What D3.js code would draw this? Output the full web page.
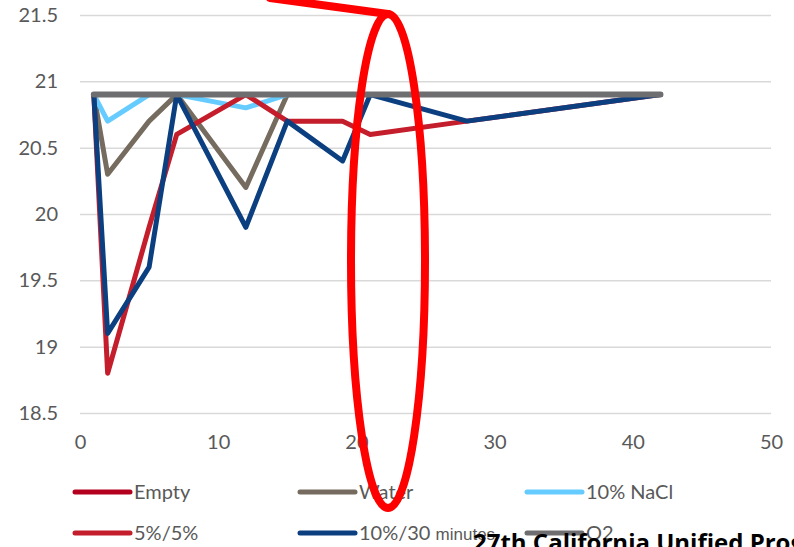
<!DOCTYPE html>
<html>
<head>
<meta charset="utf-8">
<script src="https://cdn.jsdelivr.net/npm/d3@7"></script>
<style>
  html, body { margin: 0; padding: 0; background: #fff; }
  svg { display: block; }
</style>
</head>
<body>
<svg id="chart" width="794" height="547"></svg>
<script>
// ---- data ----
const xValues      = [1, 2, 5, 7, 12, 15, 19, 21, 28, 42];
const emptyVals    = [20.9, 20.9, 20.9, 20.9, 20.9, 20.9, 20.9, 20.9, 20.9, 20.9];
const waterVals    = [20.9, 20.3, 20.7, 20.9, 20.2, 20.9, 20.9, 20.9, 20.9, 20.9];
const naclVals     = [20.9, 20.7, 20.9, 20.9, 20.8, 20.9, 20.9, 20.9, 20.9, 20.9];
const fiveVals     = [20.9, 18.8, 19.9, 20.6, 20.9, 20.7, 20.7, 20.6, 20.7, 20.9];
const tenThirtyVals= [20.9, 19.1, 19.6, 20.9, 19.9, 20.7, 20.4, 20.9, 20.7, 20.9];
const o2Vals       = [20.9, 20.9, 20.9, 20.9, 20.9, 20.9, 20.9, 20.9, 20.9, 20.9];
const seriesNames  = ["Empty", "Water", "10% NaCl", "5%/5%", "10%/30 minutes", "O2"];
const yTicks       = [18.5, 19, 19.5, 20, 20.5, 21, 21.5];
const xTicks       = [0, 10, 20, 30, 40, 50];
const footerText   = "27th California Unified Program Annual Training Conference";

const seriesData = [emptyVals, waterVals, naclVals, fiveVals, tenThirtyVals, o2Vals];
const colors = ["#B3001F", "#756B5E", "#66CCFF", "#C41D2B", "#0B3F80", "#6E6E70"];

const svg = d3.select("#chart");
const x = d3.scaleLinear().domain([0, 50]).range([80, 771]);
const y = d3.scaleLinear().domain([18.5, 21.5]).range([413, 15]);

const labelFont = "Lato, 'DejaVu Sans', sans-serif";

// gridlines + y labels
const yAxis = d3.axisLeft(y).tickValues(yTicks).tickSize(-(771 - 80)).tickPadding(22)
  .tickFormat(d => String(d));
const gy = svg.append("g").attr("transform", "translate(80,0)").call(yAxis);
gy.select(".domain").remove();
gy.selectAll(".tick line").attr("stroke", "#D9D9D9").attr("stroke-width", 1.5);
gy.selectAll(".tick text").attr("fill", "#595959").style("font-family", labelFont).style("font-size", "20px");

// x labels
const xAxis = d3.axisBottom(x).tickValues(xTicks).tickSize(0).tickPadding(22);
const gx = svg.append("g").attr("transform", "translate(0,413)").call(xAxis);
gx.select(".domain").remove();
gx.selectAll(".tick text").attr("fill", "#595959").style("font-family", labelFont).style("font-size", "20px");

// lines
const line = d3.line().x((d, i) => x(xValues[i])).y(d => y(d));
svg.append("g").selectAll("path").data(seriesData).join("path")
  .attr("d", d => line(d))
  .attr("fill", "none")
  .attr("stroke", (d, i) => colors[i])
  .attr("stroke-width", (d, i) => i === 5 ? 6 : 5)
  .attr("stroke-linecap", "round")
  .attr("stroke-linejoin", "round");

// legend
const legCols = [75, 300, 527];
const legRows = [492, 533];
const lg = svg.append("g");
seriesNames.forEach((name, i) => {
  const cx = legCols[i % 3], cy = legRows[Math.floor(i / 3)];
  lg.append("line").attr("x1", cx).attr("x2", cx + 55).attr("y1", cy).attr("y2", cy)
    .attr("stroke", colors[i]).attr("stroke-width", 5).attr("stroke-linecap", "round");
  const t = lg.append("text").attr("x", cx + 59).attr("y", cy).attr("dy", "0.36em")
    .attr("fill", "#595959").style("font-family", labelFont).style("font-size", "20px");
  if (name === "10%/30 minutes") {
    t.append("tspan").text("10%/30 ");
    t.append("tspan").text("minutes").style("font-family", "'Liberation Sans', Arial, sans-serif").style("font-size", "17px");
  } else {
    t.text(name);
  }
});

// red annotation
svg.append("line").attr("x1", 270).attr("y1", -2).attr("x2", 388).attr("y2", 14)
  .attr("stroke", "#FF0000").attr("stroke-width", 8).attr("stroke-linecap", "round");
svg.append("ellipse").attr("cx", 388).attr("cy", 261).attr("rx", 37).attr("ry", 247)
  .attr("fill", "none").attr("stroke", "#FF0000").attr("stroke-width", 8);

// footer text (cut off)
svg.append("text").attr("x", 473).attr("y", 551).text(footerText)
  .attr("fill", "#000").style("font-family", "'Open Sans', sans-serif")
  .style("font-weight", "bold").style("font-size", "24px");
</script>
</body>
</html>
